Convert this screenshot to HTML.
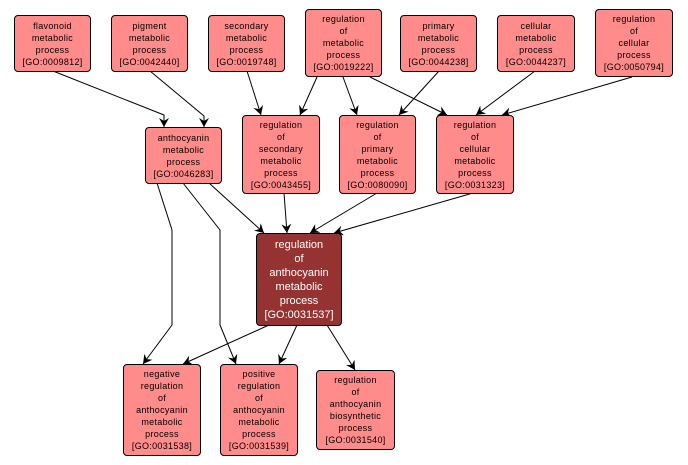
<!DOCTYPE html>
<html><head><meta charset="utf-8"><style>
body{margin:0;width:688px;height:465px;background:#fff;position:relative;overflow:hidden;font-family:"Liberation Sans",sans-serif}
.n{position:absolute;box-sizing:border-box;background:#ff8c8a;border:1px solid #000;border-radius:4px;display:flex;align-items:center;justify-content:center;text-align:center;font-size:9px;line-height:12px;color:#000;letter-spacing:0.3px}
.c{background:#953232;color:#fff;font-size:11px;line-height:14px;letter-spacing:0}
svg{position:absolute;left:0;top:0}
</style></head><body>
<svg width="688" height="465"><defs><marker id="a" markerWidth="10" markerHeight="10" refX="9" refY="5" orient="auto" markerUnits="userSpaceOnUse"><path d="M0,0 L9,5 L0,10 L3,5 Z" fill="#000"/></marker></defs>
<g stroke="#000" fill="none" stroke-width="1" marker-end="url(#a)">
<path d="M53,71 L164,115 L164,127"/>
<path d="M150,71 L204,116 L204,127"/>
<path d="M247,71 L261,115"/>
<path d="M317,77 L300,115"/>
<path d="M343,77 L357,115"/>
<path d="M370,77 L447,115"/>
<path d="M439,71 L399,115"/>
<path d="M535,71 L476,115"/>
<path d="M632,77 L502,115"/>
<path d="M157,183 L172,230 L172,325 L143,364"/>
<path d="M183,183 L220,230 L220,325 L236,364"/>
<path d="M209,183 L264,233"/>
<path d="M284,193 L287,233"/>
<path d="M377,193 L310,233"/>
<path d="M473,193 L334,233"/>
<path d="M269,325 L183,364"/>
<path d="M297,325 L279,364"/>
<path d="M327,325 L355,370"/>
</g></svg>
<div class="n" style="left:14px;top:15px;width:77px;height:57px">flavonoid<br>metabolic<br>process<br>[GO:0009812]</div>
<div class="n" style="left:111px;top:15px;width:77px;height:57px">pigment<br>metabolic<br>process<br>[GO:0042440]</div>
<div class="n" style="left:208px;top:15px;width:77px;height:57px">secondary<br>metabolic<br>process<br>[GO:0019748]</div>
<div class="n" style="left:305px;top:9px;width:77px;height:68px">regulation<br>of<br>metabolic<br>process<br>[GO:0019222]</div>
<div class="n" style="left:400px;top:15px;width:77px;height:57px">primary<br>metabolic<br>process<br>[GO:0044238]</div>
<div class="n" style="left:497px;top:15px;width:78px;height:57px">cellular<br>metabolic<br>process<br>[GO:0044237]</div>
<div class="n" style="left:595px;top:9px;width:78px;height:68px">regulation<br>of<br>cellular<br>process<br>[GO:0050794]</div>
<div class="n" style="left:145px;top:127px;width:77px;height:57px">anthocyanin<br>metabolic<br>process<br>[GO:0046283]</div>
<div class="n" style="left:242px;top:115px;width:78px;height:79px">regulation<br>of<br>secondary<br>metabolic<br>process<br>[GO:0043455]</div>
<div class="n" style="left:339px;top:115px;width:77px;height:79px">regulation<br>of<br>primary<br>metabolic<br>process<br>[GO:0080090]</div>
<div class="n" style="left:436px;top:115px;width:78px;height:79px">regulation<br>of<br>cellular<br>metabolic<br>process<br>[GO:0031323]</div>
<div class="n c" style="left:256px;top:233px;width:86px;height:93px">regulation<br>of<br>anthocyanin<br>metabolic<br>process<br>[GO:0031537]</div>
<div class="n" style="left:123px;top:364px;width:78px;height:92px">negative<br>regulation<br>of<br>anthocyanin<br>metabolic<br>process<br>[GO:0031538]</div>
<div class="n" style="left:220px;top:364px;width:78px;height:92px">positive<br>regulation<br>of<br>anthocyanin<br>metabolic<br>process<br>[GO:0031539]</div>
<div class="n" style="left:316px;top:370px;width:79px;height:80px">regulation<br>of<br>anthocyanin<br>biosynthetic<br>process<br>[GO:0031540]</div>
</body></html>
